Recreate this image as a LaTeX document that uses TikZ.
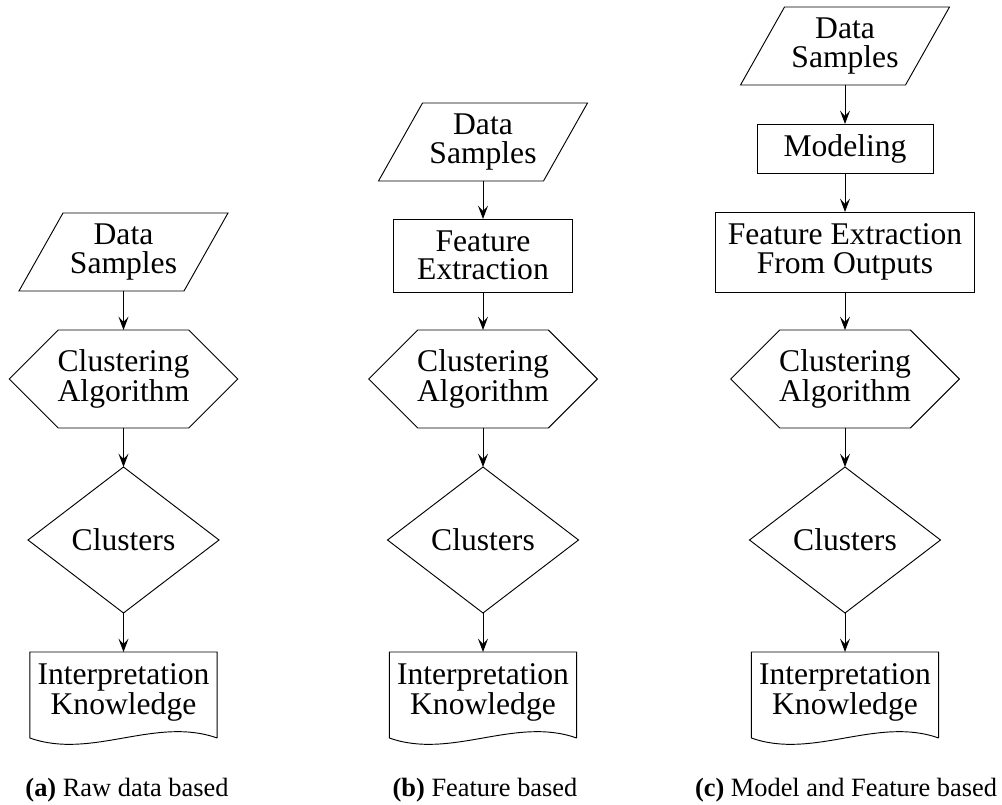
\documentclass[tikz,border=0pt]{standalone}
\usepackage{fontspec}
\setmainfont{Liberation Serif}
\usetikzlibrary{calc,arrows.meta}

% outlines drawn around plain rectangular nodes
\newcommand\outlinepara[1]{\draw ($(#1.north west)+(44,0)$) -- (#1.north east) -- ($(#1.south east)+(-44,0)$) -- (#1.south west) -- cycle;}
\newcommand\outlinehex[1]{\draw (#1.west) -- ($(#1.north west)+(49,0)$) -- ($(#1.north east)+(-49,0)$) -- (#1.east) -- ($(#1.south east)+(-49,0)$) -- ($(#1.south west)+(49,0)$) -- cycle;}
\newcommand\outlinediam[1]{\draw (#1.north) -- (#1.east) -- (#1.south) -- (#1.west) -- cycle;}
\newcommand\outlinedoc[1]{\draw ($(#1.south east)+(0,6)$) -- (#1.north east) -- (#1.north west) -- ($(#1.south west)+(0,6)$) .. controls ($(#1.south west)+(62,28)$) and ($(#1.south east)+(-62,-16)$) .. ($(#1.south east)+(0,6)$);}

\begin{document}
\begin{tikzpicture}[x=0.75pt,y=-0.75pt,line width=0.7pt,line join=miter,
  base/.style={rectangle,inner sep=0pt,outer sep=0pt,align=center,
    font=\fontsize{23.7}{21.4}\selectfont},
  blk/.style={base,draw},
  para/.style={base,minimum width=156.75pt,minimum height=58.5pt},
  hexa/.style={base,minimum width=171.5pt,minimum height=73.5pt},
  diam/.style={base,minimum width=143.25pt,minimum height=109.5pt},
  docu/.style={base,minimum width=140.5pt,minimum height=60pt},
  flow/.style={-{Stealth[length=10pt,width=7.5pt,inset=4pt]},line width=0.75pt},
  captxt/.style={anchor=base,inner sep=0pt,font=\fontsize{19.8}{24}\selectfont}]

\useasboundingbox (0,0) rectangle (1002,805);

% (a) raw data based
\node[para] (pa) at (123.5,252) {Data\\Samples};
\node[hexa] (ha) at (123.5,379) {Clustering\\Algorithm};
\node[diam] (da) at (123.5,540) {Clusters};
\node[docu] (ka) at (123.5,692) {Interpretation\\Knowledge};
\outlinepara{pa}\outlinehex{ha}\outlinediam{da}\outlinedoc{ka}
\draw[flow] (pa.south) -- (ha.north);
\draw[flow] (ha.south) -- (da.north);
\draw[flow] (da.south) -- (ka.north);
\node[captxt] (capa) at (127,796) {\textbf{(a)} Raw data based};

% (b) feature based
\node[para] (pb) at (483,142) {Data\\Samples};
\node[blk,minimum width=134.25pt,minimum height=54.75pt] (fb) at (483,255.5) {Feature\\Extraction};
\node[hexa] (hb) at (483,379) {Clustering\\Algorithm};
\node[diam] (db) at (483,540) {Clusters};
\node[docu] (kb) at (483,692) {Interpretation\\Knowledge};
\outlinepara{pb}\outlinehex{hb}\outlinediam{db}\outlinedoc{kb}
\draw[flow] (pb.south) -- (fb.north);
\draw[flow] (fb.south) -- (hb.north);
\draw[flow] (hb.south) -- (db.north);
\draw[flow] (db.south) -- (kb.north);
\node[captxt] (capb) at (485,796) {\textbf{(b)} Feature based};

% (c) model and feature based
\node[para] (pc) at (845,46) {Data\\Samples};
\node[blk,minimum width=132pt,minimum height=36.75pt] (mc) at (845,148.5) {Modeling};
\node[blk,minimum width=194.25pt,minimum height=60pt] (fc) at (845,252) {Feature Extraction\\From Outputs};
\node[hexa] (hc) at (845,379) {Clustering\\Algorithm};
\node[diam] (dc) at (845,540) {Clusters};
\node[docu] (kc) at (845,692) {Interpretation\\Knowledge};
\outlinepara{pc}\outlinehex{hc}\outlinediam{dc}\outlinedoc{kc}
\draw[flow] (pc.south) -- (mc.north);
\draw[flow] (mc.south) -- (fc.north);
\draw[flow] (fc.south) -- (hc.north);
\draw[flow] (hc.south) -- (dc.north);
\draw[flow] (dc.south) -- (kc.north);
\node[captxt] (capc) at (846,796) {\textbf{(c)} Model and Feature based};

\end{tikzpicture}
\end{document}
